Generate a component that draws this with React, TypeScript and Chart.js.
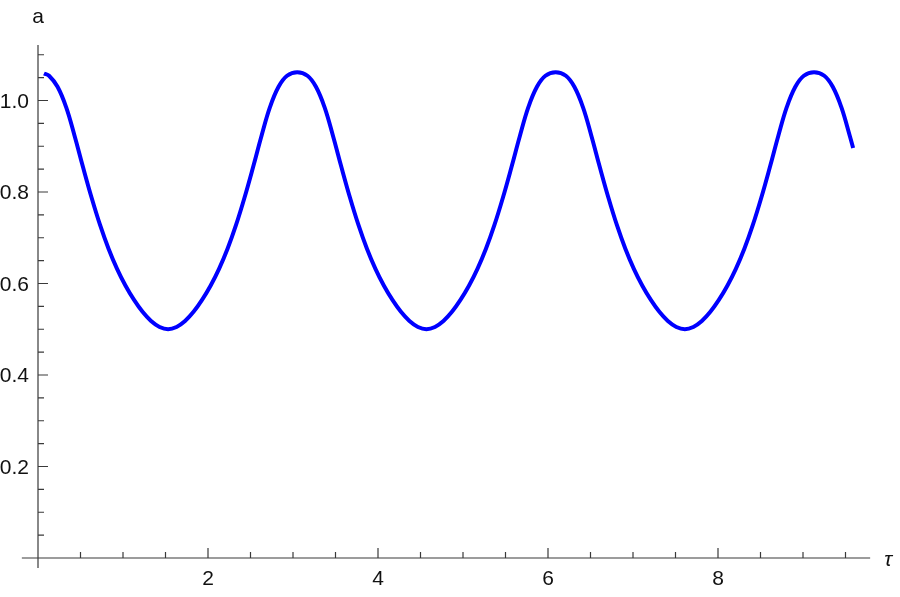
import React, { useEffect, useRef } from "react";
import { Chart, registerables } from "chart.js";

Chart.register(...registerables);

// Curve samples (tau, a)
const tau = [
  0.07, 0.13, 0.23, 0.33, 0.43, 0.53, 0.63, 0.73, 0.83, 0.93, 1.03, 1.13, 1.23, 1.33, 1.43, 1.53,
  1.63, 1.73, 1.83, 1.93, 2.03, 2.13, 2.23, 2.33, 2.43, 2.53, 2.63, 2.73, 2.83, 2.93, 3.05,
  3.17, 3.27, 3.37, 3.47, 3.57, 3.67, 3.77, 3.87, 3.97, 4.07, 4.17, 4.27, 4.37, 4.47, 4.57,
  4.67, 4.77, 4.87, 4.97, 5.07, 5.17, 5.27, 5.37, 5.47, 5.57, 5.67, 5.77, 5.87, 5.97, 6.09,
  6.21, 6.31, 6.41, 6.51, 6.61, 6.71, 6.81, 6.91, 7.01, 7.11, 7.21, 7.31, 7.41, 7.51, 7.61,
  7.71, 7.81, 7.91, 8.01, 8.11, 8.21, 8.31, 8.41, 8.51, 8.61, 8.71, 8.81, 8.91, 9.01, 9.13,
  9.25, 9.35, 9.45, 9.55, 9.59,
];
const aValues = [
  1.059, 1.054, 1.030, 0.986, 0.923, 0.854, 0.788, 0.728, 0.676, 0.632, 0.595, 0.564, 0.538, 0.518, 0.505, 0.500,
  0.505, 0.518, 0.538, 0.564, 0.595, 0.632, 0.676, 0.728, 0.788, 0.854, 0.923, 0.986, 1.030, 1.054, 1.062,
  1.054, 1.030, 0.986, 0.923, 0.854, 0.788, 0.728, 0.676, 0.632, 0.595, 0.564, 0.538, 0.518, 0.505, 0.500,
  0.505, 0.518, 0.538, 0.564, 0.595, 0.632, 0.676, 0.728, 0.788, 0.854, 0.923, 0.986, 1.030, 1.054, 1.062,
  1.054, 1.030, 0.986, 0.923, 0.854, 0.788, 0.728, 0.676, 0.632, 0.595, 0.564, 0.538, 0.518, 0.505, 0.500,
  0.505, 0.518, 0.538, 0.564, 0.595, 0.632, 0.676, 0.728, 0.788, 0.854, 0.923, 0.986, 1.030, 1.054, 1.062,
  1.054, 1.030, 0.986, 0.923, 0.896,
];

const xMajorTicks = [2, 4, 6, 8];
const xMajorLabels = ["2", "4", "6", "8"];
const xMinorTicks = [0.5, 1, 1.5, 2.5, 3, 3.5, 4.5, 5, 5.5, 6.5, 7, 7.5, 8.5, 9, 9.5];
const yMajorTicks = [0.2, 0.4, 0.6, 0.8, 1.0];
const yMajorLabels = ["0.2", "0.4", "0.6", "0.8", "1.0"];
const yMinorTicks = [0.05, 0.1, 0.15, 0.25, 0.3, 0.35, 0.45, 0.5, 0.55, 0.65, 0.7, 0.75, 0.85, 0.9, 0.95, 1.05, 1.1];
const xAxisTitle = "τ";
const yAxisTitle = "a";

const X_MIN = -0.19;
const X_MAX = 9.79;
const Y_MIN = -0.0219;
const Y_MAX = 1.1213;

const AXIS_COLOR = "#3a3a3a";
const LABEL_COLOR = "#111111";
const FONT = '21px "Liberation Sans", Arial, sans-serif';

const axesPlugin = {
  id: "mmaAxes",
  beforeDatasetsDraw(chart: any) {
    const { ctx, chartArea } = chart;
    const xs = chart.scales.x;
    const ys = chart.scales.y;
    const x0 = xs.getPixelForValue(0);
    const y0 = ys.getPixelForValue(0);
    ctx.save();
    ctx.strokeStyle = AXIS_COLOR;
    ctx.lineWidth = 1.2;
    ctx.beginPath();
    ctx.moveTo(chartArea.left, y0);
    ctx.lineTo(chartArea.right, y0);
    ctx.moveTo(x0, chartArea.top);
    ctx.lineTo(x0, chartArea.bottom);
    xMajorTicks.forEach((v) => {
      const px = xs.getPixelForValue(v);
      ctx.moveTo(px, y0);
      ctx.lineTo(px, y0 - 10);
    });
    xMinorTicks.forEach((v) => {
      const px = xs.getPixelForValue(v);
      ctx.moveTo(px, y0);
      ctx.lineTo(px, y0 - 6);
    });
    yMajorTicks.forEach((v) => {
      const py = ys.getPixelForValue(v);
      ctx.moveTo(x0, py);
      ctx.lineTo(x0 + 10, py);
    });
    yMinorTicks.forEach((v) => {
      const py = ys.getPixelForValue(v);
      ctx.moveTo(x0, py);
      ctx.lineTo(x0 + 6, py);
    });
    ctx.stroke();

    ctx.fillStyle = LABEL_COLOR;
    ctx.font = FONT;
    ctx.textBaseline = "alphabetic";
    ctx.textAlign = "center";
    xMajorTicks.forEach((v, i) => {
      ctx.fillText(xMajorLabels[i], xs.getPixelForValue(v), y0 + 27);
    });
    ctx.textAlign = "right";
    yMajorTicks.forEach((v, i) => {
      ctx.fillText(yMajorLabels[i], x0 - 9, ys.getPixelForValue(v) + 7.5);
    });
    ctx.textAlign = "center";
    ctx.fillText(yAxisTitle, x0, chartArea.top - 22);
    ctx.textAlign = "left";
    ctx.font = "italic " + FONT;
    ctx.fillText(xAxisTitle, chartArea.right + 14, y0 + 8);
    ctx.restore();
  },
};

export default function App() {
  const canvasRef = useRef<HTMLCanvasElement | null>(null);

  useEffect(() => {
    if (!canvasRef.current) return;
    const points = tau.map((t, i) => ({ x: t, y: aValues[i] }));
    const chart = new Chart(canvasRef.current, {
      type: "line",
      data: {
        datasets: [
          {
            label: "a(τ)",
            data: points,
            borderColor: "#0000ff",
            borderWidth: 4,
            pointRadius: 0,
            fill: false,
            tension: 0.4,
            borderCapStyle: "butt",
            borderJoinStyle: "round",
          },
        ],
      },
      options: {
        animation: false,
        responsive: true,
        maintainAspectRatio: false,
        layout: { padding: { left: 21.85, right: 29.85, top: 45, bottom: 29 } },
        scales: {
          x: { type: "linear", display: false, min: X_MIN, max: X_MAX },
          y: { type: "linear", display: false, min: Y_MIN, max: Y_MAX },
        },
        plugins: { legend: { display: false }, tooltip: { enabled: false } },
      },
      plugins: [axesPlugin],
    });
    return () => chart.destroy();
  }, []);

  return (
    <div style={{ position: "absolute", left: 0, top: 0, width: 900, height: 597, background: "#fff" }}>
      <canvas ref={canvasRef} />
    </div>
  );
}
